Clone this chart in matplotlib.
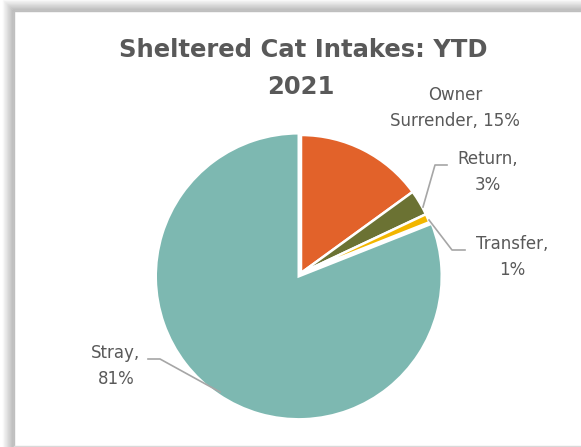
import matplotlib
matplotlib.use("Agg")
import matplotlib.pyplot as plt

categories = ["Owner\nSurrender", "Return", "Transfer", "Stray"]
values = [15, 3, 1, 81]
colors = ["#E2622A", "#6B7233", "#F2B600", "#7DB8B1"]
title_lines = ["Sheltered Cat Intakes: YTD", "2021"]

W, H = 581, 447
fig = plt.figure(figsize=(W / 100, H / 100), dpi=100)
ax = fig.add_axes([0, 0, 1, 1])

def Y(y):
    return H - y

# pie (axes in pixel units, so explode offset is in pixels)
cx, cy, r = 301, Y(273), 143
explode = [0, 0, 0, 4.0]
wedges, _ = ax.pie(values, colors=colors, startangle=90, counterclock=False,
                   explode=explode, center=(cx, cy), radius=r,
                   wedgeprops=dict(edgecolor="white", linewidth=1.8))
for w in wedges[:3]:
    w.set_radius(138)
ax.set_xlim(0, W)
ax.set_ylim(0, H)
ax.set_aspect("equal")
ax.axis("off")

# frame with shadow
for i in range(11):
    a = 0.03 + 0.035 * i
    ax.plot([3 + i, 3 + i], [Y(448), Y(i)], color="#6f6f6f", alpha=a,
            lw=1, solid_capstyle="butt", zorder=0)
    ax.plot([3 + i, 582], [Y(i), Y(i)], color="#6f6f6f", alpha=a,
            lw=1, solid_capstyle="butt", zorder=0)
ax.plot([14, 14, 582], [Y(448), Y(11), Y(11)], color="#BFBFBF", lw=1, zorder=0)
ax.plot([14, 582], [Y(446), Y(446)], color="#D9D9D9", lw=1, zorder=0)

tc = "#595959"
lc = "#A6A6A6"
tf = dict(ha="center", va="center", fontsize=17.5, fontweight="bold", color=tc)
ax.text(303, Y(50), title_lines[0], **tf)
ax.text(301, Y(87), title_lines[1], **tf)

lf = dict(fontsize=12, color=tc, ha="center", va="center", linespacing=1.6)
name0 = categories[0].split("\n")
ax.text(455, Y(108), f"{name0[0]}\n{name0[1]}, {values[0]}%", **lf)
ax.text(488, Y(172), f"{categories[1]},\n{values[1]}%", **lf)
ax.text(512, Y(257), f"{categories[2]},\n{values[2]}%", **lf)
ax.text(116, Y(366), f"{categories[3]},\n{values[3]}%", **lf)

# leader lines
ax.plot([447, 435, 423], [Y(165), Y(165), Y(207)], color=lc, lw=1.2)
ax.plot([429, 452, 465], [Y(220), Y(250), Y(250)], color=lc, lw=1.2)
ax.plot([148, 160, 220], [Y(359), Y(359), Y(392)], color=lc, lw=1.2)

fig.savefig("out.png", dpi=100, facecolor="white")
